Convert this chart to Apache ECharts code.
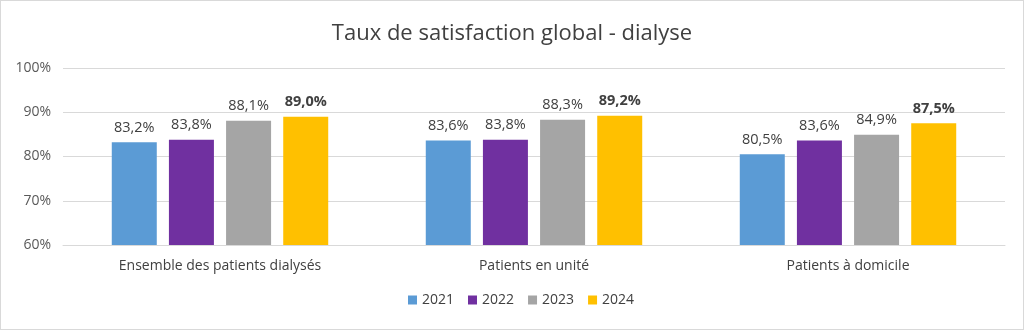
<!DOCTYPE html>
<html><head><meta charset="utf-8">
<script src="https://cdn.jsdelivr.net/npm/echarts@6/dist/echarts.min.js"></script>
<style>html,body{margin:0;padding:0;background:#fff}#c{width:1024px;height:330px;box-sizing:border-box;border:1px solid #d9d9d9}</style>
</head><body><div id="c"></div>
<script>
var categories = ['Ensemble des patients dialysés', 'Patients en unité', 'Patients à domicile'];
var years = ['2021', '2022', '2023', '2024'];
var v2021 = [83.2, 83.6, 80.5];
var v2022 = [83.8, 83.8, 83.6];
var v2023 = [88.1, 88.3, 84.9];
var v2024 = [89.0, 89.2, 87.5];
var colors = ['#5B9BD5', '#7030A0', '#A5A5A5', '#FFC000'];
var values = [v2021, v2022, v2023, v2024];
var font = 'Open Sans';
var chart = echarts.init(document.getElementById('c'));
chart.setOption({
  animation: false,
  title: { text: 'Taux de satisfaction global - dialyse', left: 'center', top: 17,
    textStyle: { fontFamily: font, fontSize: 22, fontWeight: 'normal', color: '#404040' } },
  legend: { bottom: 17, left: 402, itemWidth: 9, itemHeight: 9, itemGap: 14, icon: 'rect',
    textStyle: { fontFamily: font, fontSize: 14, color: '#404040' }, data: years },
  grid: { left: 62, right: 18, top: 67, bottom: 84, containLabel: false },
  xAxis: { type: 'category', data: categories,
    axisLine: { show: true, lineStyle: { color: '#d9d9d9' } }, axisTick: { show: false },
    axisLabel: { fontFamily: font, fontSize: 14, color: '#404040', margin: 14 } },
  yAxis: { type: 'value', min: 60, max: 100, interval: 10,
    axisLine: { show: false }, axisTick: { show: false },
    splitLine: { lineStyle: { color: '#d9d9d9' } },
    axisLabel: { fontFamily: font, fontSize: 14, color: '#595959', margin: 12, formatter: '{value}%' } },
  series: years.map(function (y, i) {
    return { name: y, type: 'bar', data: values[i], barWidth: 45, barGap: '27%', barCategoryGap: '31%',
      itemStyle: { color: colors[i] },
      label: { show: true, position: 'top', distance: 7, fontFamily: font, fontSize: 14.5,
        color: '#404040', fontWeight: i === 3 ? 'bold' : 'normal',
        formatter: function (p) { return p.value.toFixed(1).replace('.', ',') + '%'; } } };
  })
});
</script></body></html>
